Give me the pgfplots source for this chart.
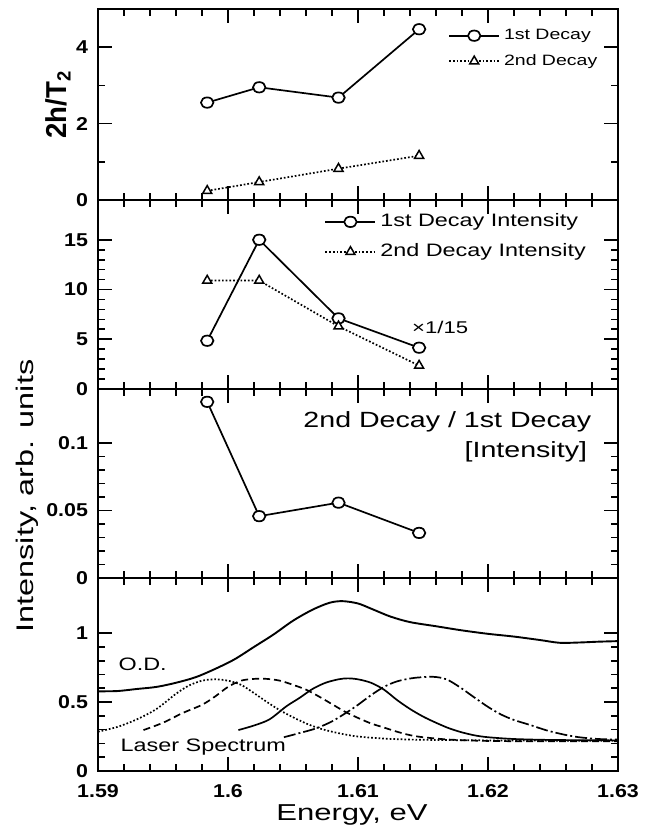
\documentclass[border=0pt]{standalone}
\usepackage{fontspec}
\setmainfont{Liberation Sans}[FakeStretch=1.3]
\newfontfamily\tickfont{Liberation Sans}[FakeStretch=1.15]
\newfontfamily\labelfont{Liberation Sans}[FakeStretch=1.35]
\usepackage{pgfplots}
\pgfplotsset{compat=1.18}

\pgfplotsset{
  panel/.style={
    scale only axis, width=260pt, anchor=south west,
    xmin=1.59, xmax=1.63,
    xtick={1.59,1.6,1.61,1.62,1.63},
    xticklabels={},
    minor x tick num=4,
    tick align=inside,
    major tick length=7pt, minor tick length=3.5pt,
    axis line style={line width=1.2pt},
    tick style={line width=0.85pt, black},
    every tick label/.append style={font=\fontsize{9.3}{11}\tickfont\bfseries},
    xticklabel style={yshift=-3pt},
    yticklabel style={xshift=-1.5pt},
    every axis plot/.append style={line width=0.85pt, black},
    legend image code/.code={
      \draw[mark repeat=2,mark phase=2,#1] plot coordinates {(0pt,0pt) (12.5pt,0pt) (25pt,0pt)};
    },
  },
  circ/.style={mark=*, mark size=2.6pt, mark options={solid, fill=white, xscale=1.2, line width=0.85pt}},
  tri/.style={densely dotted, mark=triangle*, mark size=2.6pt, mark options={solid, fill=white, line width=0.75pt}},
}

\begin{document}
\begin{tikzpicture}
\path[use as bounding box] (0,0) rectangle (324.5pt,416.5pt);

% Panel 1
\begin{axis}[panel, at={(49pt,316.5pt)}, height=95.5pt,
  ymin=0, ymax=5, ytick={0,2,4}, yticklabels={0,2,4}, minor y tick num=1,
  ylabel={\scalebox{1}[1.2]{\fontsize{12}{14}\tickfont\bfseries 2h/T\textsubscript{2}}},
  ylabel style={at={(axis description cs:-0.077,0.5)}, anchor=center},
  legend style={at={(0.673,0.918)}, anchor=north west, draw=none, fill=none,
    font=\fontsize{7.5}{9}\selectfont, row sep=2pt, inner sep=0pt},
  legend cell align=left,
]
\addplot[circ] coordinates {(1.5984,2.55) (1.6024,2.95) (1.6085,2.68) (1.6147,4.47)};
\addlegendentry{1st Decay}
\addplot[tri] coordinates {(1.5984,0.24) (1.6024,0.47) (1.6085,0.82) (1.6147,1.16)};
\addlegendentry{2nd Decay}
\end{axis}

% Panel 2
\begin{axis}[panel, at={(49pt,222pt)}, height=94.5pt,
  ymin=0, ymax=19, ytick={0,5,10,15}, yticklabels={0,5,10,15}, minor y tick num=4,
  legend style={at={(0.435,0.95)}, anchor=north west, draw=none, fill=none,
    font=\fontsize{9}{11}\selectfont, row sep=3pt, inner sep=0pt},
  legend cell align=left,
]
\addplot[circ] coordinates {(1.5984,4.85) (1.6024,15.0) (1.6085,7.1) (1.6147,4.15)};
\addlegendentry{1st Decay Intensity}
\addplot[tri] coordinates {(1.5984,10.9) (1.6024,10.9) (1.6085,6.3) (1.6147,2.35)};
\addlegendentry{2nd Decay Intensity}
\node[font=\fontsize{8.5}{10}\selectfont] at (rel axis cs:0.658,0.328) {×1/15};
\end{axis}

% Panel 3
\begin{axis}[panel, at={(49pt,127.5pt)}, height=94.5pt,
  ymin=0, ymax=0.14, ytick={0,0.05,0.1}, yticklabels={0,0.05,0.1}, minor y tick num=4,
]
\addplot[circ] coordinates {(1.5984,0.1305) (1.6024,0.0458) (1.6085,0.0558) (1.6147,0.0334)};
\node[anchor=east, font=\fontsize{11}{13}\selectfont] at (rel axis cs:0.962,0.825) {2nd Decay / 1st Decay};
\node[anchor=east, font=\fontsize{11}{13}\selectfont] at (rel axis cs:0.954,0.667) {[Intensity]};
\end{axis}

% Panel 4
\begin{axis}[panel, at={(49pt,31pt)}, height=96.5pt,
  ymin=0, ymax=1.4, ytick={0,0.5,1}, yticklabels={0,0.5,1}, minor y tick num=4,
  xticklabels={1.59,1.6,1.61,1.62,1.63},
]
% O.D.
\addplot[smooth, line width=0.95pt] coordinates {
(1.5900,0.578) (1.5915,0.58) (1.5930,0.595) (1.5945,0.61) (1.5960,0.64) (1.5975,0.68)
(1.5990,0.74) (1.6005,0.81) (1.6020,0.90) (1.6035,0.99) (1.6050,1.09) (1.6065,1.17)
(1.6078,1.22) (1.6088,1.232) (1.6100,1.215) (1.6112,1.17) (1.6125,1.12) (1.6140,1.08)
(1.6160,1.05) (1.6180,1.02) (1.6200,0.995) (1.6220,0.975) (1.6240,0.95) (1.6255,0.93)
(1.6270,0.932) (1.6285,0.938) (1.6300,0.942)};
% laser 1 dotted
\addplot[smooth, densely dotted] coordinates {
(1.5900,0.285) (1.5915,0.32) (1.5930,0.375) (1.5945,0.45) (1.5960,0.56) (1.5970,0.62)
(1.5980,0.655) (1.5990,0.665) (1.6000,0.655) (1.6010,0.625) (1.6020,0.565) (1.6030,0.50)
(1.6040,0.44) (1.6050,0.39) (1.6060,0.345) (1.6070,0.31) (1.6080,0.285) (1.6090,0.265)
(1.6100,0.25) (1.6120,0.235) (1.6140,0.228) (1.6160,0.225) (1.6200,0.222) (1.6250,0.22) (1.6300,0.22)};
% laser 2 dashed
\addplot[smooth, dash pattern=on 3.5pt off 2pt] coordinates {
(1.5935,0.297) (1.5950,0.35) (1.5965,0.42) (1.5980,0.48) (1.5990,0.54) (1.6000,0.61)
(1.6010,0.655) (1.6020,0.668) (1.6030,0.668) (1.6040,0.655) (1.6050,0.625) (1.6060,0.59)
(1.6070,0.54) (1.6080,0.485) (1.6090,0.43) (1.6100,0.385) (1.6110,0.345) (1.6120,0.315)
(1.6130,0.285) (1.6140,0.26) (1.6150,0.245) (1.6170,0.228) (1.6200,0.218) (1.6250,0.215) (1.6300,0.215)};
% laser 3 solid
\addplot[smooth] coordinates {
(1.6008,0.297) (1.6020,0.33) (1.6032,0.375) (1.6045,0.47) (1.6055,0.53) (1.6065,0.595)
(1.6075,0.64) (1.6085,0.665) (1.6092,0.672) (1.6100,0.665) (1.6110,0.64) (1.6120,0.59)
(1.6130,0.515) (1.6140,0.45) (1.6150,0.395) (1.6160,0.35) (1.6170,0.31) (1.6180,0.28)
(1.6190,0.258) (1.6200,0.245) (1.6220,0.232) (1.6250,0.225) (1.6300,0.222)};
% laser 4 dash-dot
\addplot[smooth, dash pattern=on 6pt off 1.5pt on 1pt off 1.5pt] coordinates {
(1.6043,0.245) (1.6055,0.275) (1.6068,0.31) (1.6080,0.36) (1.6091,0.423) (1.6100,0.48)
(1.6110,0.55) (1.6120,0.61) (1.6130,0.65) (1.6143,0.675) (1.6158,0.683) (1.6168,0.665)
(1.6178,0.61) (1.6190,0.53) (1.6200,0.465) (1.6210,0.41) (1.6220,0.37) (1.6232,0.335)
(1.6245,0.295) (1.6258,0.265) (1.6270,0.245) (1.6285,0.232) (1.6300,0.228)};
\node[anchor=west, font=\fontsize{9}{11}\selectfont] at (rel axis cs:0.026,0.554) {O.D.};
\node[anchor=west, font=\fontsize{9}{11}\selectfont] at (rel axis cs:0.03,0.126) {Laser Spectrum};
\end{axis}

\node[rotate=90, font=\fontsize{12}{14}\labelfont] at (13.5pt,168.5pt) {Intensity, arb. units};
\node[font=\fontsize{11.5}{14}\labelfont] at (176pt,9pt) {Energy, eV};
\end{tikzpicture}
\end{document}
